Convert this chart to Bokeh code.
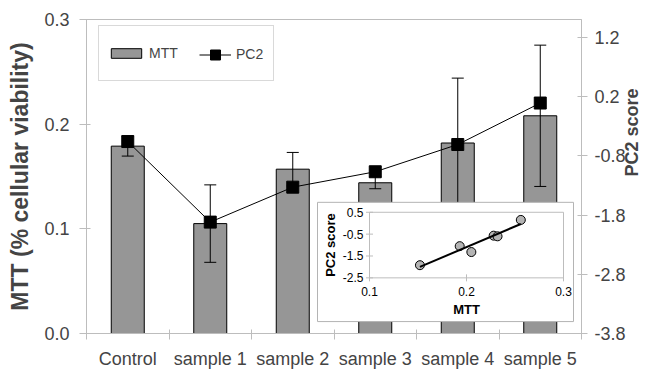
import numpy as np
from bokeh.plotting import figure
from bokeh.core.properties import value
from bokeh.models import (ColumnDataSource, Range1d, LinearAxis, FixedTicker,
                          Legend, LegendItem, PrintfTickFormatter)
from bokeh.embed import file_html
from bokeh.resources import INLINE

# ---------------- data ----------------
categories = ["Control", "sample 1", "sample 2", "sample 3", "sample 4", "sample 5"]
mtt = [0.179, 0.105, 0.157, 0.144, 0.182, 0.208]
mtt_err = [0.0095, 0.037, 0.016, 0.0057, 0.062, 0.0675]
pc2 = [-0.56, -1.92, -1.33, -1.07, -0.61, 0.09]
left_ticks = [0.0, 0.1, 0.2, 0.3]
right_ticks = [-3.8, -2.8, -1.8, -0.8, 0.2, 1.2]

inset_mtt = [0.152, 0.193, 0.205, 0.228, 0.232, 0.256]
inset_pc2 = [-1.92, -1.05, -1.32, -0.57, -0.60, 0.15]
inset_x_ticks = [0.1, 0.2, 0.3]
inset_y_ticks = [-2.5, -1.5, -0.5, 0.5]

FONT = "Liberation Sans"
GRAY_LINE = "#bdbdbd"

# ---------------- layout constants (pixels) ----------------
W, H = 655, 371
B_LEFT, B_RIGHT, B_TOP, B_BOTTOM = 86, 74, 19, 36
FRAME_W, FRAME_H = W - B_LEFT - B_RIGHT, H - B_TOP - B_BOTTOM
Y_MAX = 0.3
n = len(categories)
# inset box and inset plotting frame, in pixels from the main frame's top-left
BOX = dict(left=231, right=487, top=184, bottom=304)
IFR = dict(left=283, right=477, top=194, bottom=260)


def px_x(v):
    return v / FRAME_W * n


def px_y(v):
    return (FRAME_H - v) / FRAME_H * Y_MAX


# ---------------- main chart ----------------
xs = [i + 0.5 for i in range(n)]
bounds = list(range(n + 1))
lo = (np.array(mtt) - np.array(mtt_err)).tolist()
hi = (np.array(mtt) + np.array(mtt_err)).tolist()
src = ColumnDataSource(dict(x=xs, mtt=mtt, lo=lo, hi=hi, pc2=pc2))

p = figure(width=W, height=H, x_range=Range1d(0, n), y_range=Range1d(0, Y_MAX),
           output_backend="svg", toolbar_location=None,
           min_border_left=B_LEFT, min_border_right=B_RIGHT,
           min_border_top=B_TOP, min_border_bottom=B_BOTTOM)
p.xgrid.visible = False
p.ygrid.visible = False
p.outline_line_color = GRAY_LINE
p.background_fill_color = "white"
p.border_fill_color = "white"

p.extra_y_ranges = {"pc2": Range1d(-3.8, 1.5)}

# left axis
ya = p.yaxis[0]
ya.ticker = FixedTicker(ticks=left_ticks)
ya.formatter = PrintfTickFormatter(format="%.1f")
ya.axis_label = "MTT (% cellular viability)"
ya.axis_label_text_font = FONT
ya.axis_label_text_font_size = "23px"
ya.axis_label_text_font_style = "bold"
ya.axis_label_standoff = 8
ya.major_label_text_font = FONT
ya.major_label_text_font_size = "18px"
ya.major_label_standoff = 10
ya.axis_line_color = GRAY_LINE
ya.major_tick_line_color = GRAY_LINE
ya.major_tick_in = 4
ya.major_tick_out = 7
ya.minor_tick_line_color = None

# right axis
ra = LinearAxis(y_range_name="pc2", ticker=FixedTicker(ticks=right_ticks),
                formatter=PrintfTickFormatter(format="%.1f"),
                axis_label="PC2 score")
ra.axis_label_text_font = FONT
ra.axis_label_text_font_size = "18px"
ra.axis_label_text_font_style = "bold"
ra.axis_label_standoff = 3
ra.axis_label_orientation = np.pi / 2
ra.major_label_text_font = FONT
ra.major_label_text_font_size = "18px"
ra.major_label_standoff = 7
ra.axis_line_color = GRAY_LINE
ra.major_tick_line_color = GRAY_LINE
ra.major_tick_in = 4
ra.major_tick_out = 6
ra.minor_tick_line_color = None
p.add_layout(ra, "right")

# bottom axis (categories, ticks at boundaries)
xa = p.xaxis[0]
xa.ticker = FixedTicker(ticks=xs, minor_ticks=bounds)
xa.major_label_overrides = {x: c for x, c in zip(xs, categories)}
xa.major_tick_line_color = None
xa.major_tick_in = 0
xa.major_tick_out = 0
xa.minor_tick_line_color = GRAY_LINE
xa.minor_tick_in = 4
xa.minor_tick_out = 6
xa.major_label_standoff = 9
xa.major_label_text_font = FONT
xa.major_label_text_font_size = "18px"
xa.axis_line_color = GRAY_LINE

bars = p.vbar(x="x", top="mtt", width=0.4, source=src, fill_color="#969696",
              line_color="black", line_width=1)
# error bars
p.segment(x0="x", y0="lo", x1="x", y1="hi", source=src, line_color="black", line_width=1)
p.scatter("x", "lo", source=src, marker="dash", size=12, line_color="black", line_width=1)
p.scatter("x", "hi", source=src, marker="dash", size=12, line_color="black", line_width=1)

ln = p.line("x", "pc2", source=src, y_range_name="pc2", line_color="black", line_width=1)
sq = p.scatter("x", "pc2", source=src, y_range_name="pc2", marker="square", size=12,
               fill_color="black", line_color="black")

# legend: boxed MTT entry spanning the whole box, PC2 entry drawn on top of it
LEG_W, LEG_H, LEG_TOP = 174, 54, 10
leg_a = Legend(items=[LegendItem(label="MTT", renderers=[bars])],
               orientation="horizontal", location=(12, FRAME_H - LEG_TOP - LEG_H))
leg_a.border_line_color = "#b4b4b4"
leg_a.border_line_width = 1
leg_a.background_fill_color = "white"
leg_a.background_fill_alpha = 1
leg_a.label_text_font = FONT
leg_a.label_text_font_size = "14px"
leg_a.padding = 8
leg_a.glyph_width = 38
leg_a.glyph_height = 12
leg_a.label_standoff = 4
leg_a.label_width = LEG_W - 16 - 38 - 4
leg_a.label_height = LEG_H - 16
leg_a.margin = 0
p.add_layout(leg_a)

leg_b = Legend(items=[LegendItem(label="PC2", renderers=[ln, sq])],
               orientation="horizontal",
               location=(12 + 101, FRAME_H - LEG_TOP - LEG_H / 2 - 12.5))
leg_b.border_line_color = None
leg_b.background_fill_alpha = 0
leg_b.label_text_font = FONT
leg_b.label_text_font_size = "14px"
leg_b.padding = 0
leg_b.glyph_width = 32
leg_b.glyph_height = 25
leg_b.label_height = 25
leg_b.label_standoff = 5
leg_b.margin = 0
p.add_layout(leg_b)

# ---------------- inset (drawn inside the main figure) ----------------
p.quad(left=[px_x(BOX["left"])], right=[px_x(BOX["right"])],
       top=[px_y(BOX["top"])], bottom=[px_y(BOX["bottom"])],
       fill_color="white", line_color="#b4b4b4", line_width=1)

ix_range = Range1d(inset_x_ticks[0], inset_x_ticks[-1])
iy_range = Range1d(inset_y_ticks[0], inset_y_ticks[-1])
xy = p.subplot(x_source=ix_range, y_source=iy_range,
               x_target=Range1d(px_x(IFR["left"]), px_x(IFR["right"])),
               y_target=Range1d(px_y(IFR["bottom"]), px_y(IFR["top"])))

x0, x1 = ix_range.start, ix_range.end
y0, y1 = iy_range.start, iy_range.end
xy.quad(left=[x0], right=[x1], bottom=[y0], top=[y1], fill_alpha=0,
        line_color=GRAY_LINE, line_width=1)
# ticks
xy.scatter(x=inset_x_ticks, y=[y0] * len(inset_x_ticks), marker="dash", angle=np.pi / 2,
           size=7, line_color=GRAY_LINE)
xy.scatter(x=[x0] * len(inset_y_ticks), y=inset_y_ticks, marker="dash",
           size=7, line_color=GRAY_LINE)
# tick labels
xy.text(x=inset_x_ticks, y=[y0] * len(inset_x_ticks),
        text=["%.1f" % v for v in inset_x_ticks], y_offset=9,
        text_align="center", text_baseline="top", text_font=value(FONT),
        text_font_size="12px", text_color="black")
xy.text(x=[x0] * len(inset_y_ticks), y=inset_y_ticks,
        text=["%.1f" % v for v in inset_y_ticks], x_offset=-6,
        text_align="right", text_baseline="middle", text_font=value(FONT),
        text_font_size="12px", text_color="black")
# axis titles
xy.text(x=[(x0 + x1) / 2], y=[y0], text=["MTT"], y_offset=24,
        text_align="center", text_baseline="top", text_font=value(FONT),
        text_font_size="13px", text_font_style="bold", text_color="black")
xy.text(x=[x0], y=[(y0 + y1) / 2], text=["PC2 score"], x_offset=-39, angle=np.pi / 2,
        text_align="center", text_baseline="middle", text_font=value(FONT),
        text_font_size="13px", text_font_style="bold", text_color="black")

slope, intercept = np.polyfit(inset_mtt, inset_pc2, 1)
fit_x = [min(inset_mtt), max(inset_mtt)]
fit_y = [slope * v + intercept for v in fit_x]
xy.scatter(x=inset_mtt, y=inset_pc2, size=9, fill_color="#b4b4b4", line_color="black",
           line_width=1)
xy.line(x=fit_x, y=fit_y, line_color="black", line_width=2)

open("out.html", "w").write(file_html(p, INLINE))
